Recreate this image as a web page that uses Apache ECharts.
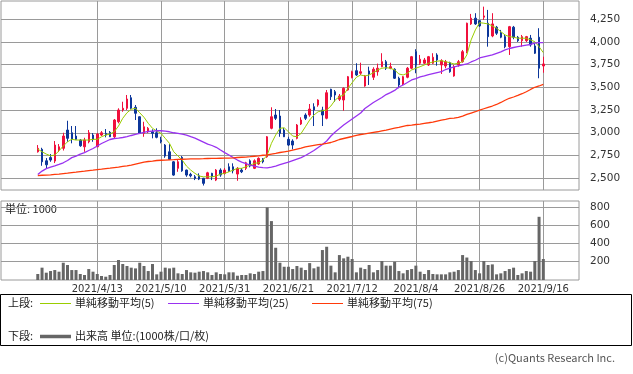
<!DOCTYPE html>
<html><head><meta charset="utf-8">
<script src="https://cdn.jsdelivr.net/npm/echarts@6/dist/echarts.min.js"></script>
<style>html,body{margin:0;padding:0;background:#fff}#c{width:633px;height:374px}</style>
</head><body><div id="c"></div>
<script>
const dates = [
'2021/3/24','2021/3/25','2021/3/26','2021/3/29','2021/3/30','2021/3/31',
'2021/4/1','2021/4/2','2021/4/5','2021/4/6','2021/4/7','2021/4/8','2021/4/9','2021/4/12',
'2021/4/13','2021/4/14','2021/4/15','2021/4/16','2021/4/19','2021/4/20','2021/4/21','2021/4/22','2021/4/23','2021/4/26','2021/4/27','2021/4/28','2021/4/30',
'2021/5/6','2021/5/7','2021/5/10','2021/5/11','2021/5/12','2021/5/13','2021/5/14','2021/5/17','2021/5/18','2021/5/19','2021/5/20','2021/5/21',
'2021/5/24','2021/5/25','2021/5/26','2021/5/27','2021/5/28','2021/5/31',
'2021/6/1','2021/6/2','2021/6/3','2021/6/4','2021/6/7','2021/6/8','2021/6/9','2021/6/10','2021/6/11',
'2021/6/14','2021/6/15','2021/6/16','2021/6/17','2021/6/18','2021/6/21','2021/6/22','2021/6/23','2021/6/24','2021/6/25',
'2021/6/28','2021/6/29','2021/6/30','2021/7/1','2021/7/2','2021/7/5','2021/7/6','2021/7/7','2021/7/8','2021/7/9',
'2021/7/12','2021/7/13','2021/7/14','2021/7/15','2021/7/16','2021/7/19','2021/7/20','2021/7/21',
'2021/7/26','2021/7/27','2021/7/28','2021/7/29','2021/7/30','2021/8/2','2021/8/3','2021/8/4','2021/8/5','2021/8/6',
'2021/8/10','2021/8/11','2021/8/12','2021/8/13','2021/8/16','2021/8/17','2021/8/18','2021/8/19','2021/8/20',
'2021/8/23','2021/8/24','2021/8/25','2021/8/26','2021/8/27','2021/8/30','2021/8/31',
'2021/9/1','2021/9/2','2021/9/3','2021/9/6','2021/9/7','2021/9/8','2021/9/9','2021/9/10',
'2021/9/13','2021/9/14','2021/9/15','2021/9/16'];

const opens = [2791,2818,2692,2727,2689,2810,2829,3030,3000,2964,2920,2846,2901,2975,2846,2975,2993,3005,2956,3121,
3250,3269,3385,3280,3176,2994,3011,3011,3000,2920,2865,2791,2681,2609,2730,2590,2543,2516,2527,2499,
2499,2554,2480,2590,2553,2626,2626,2546,2590,2609,2692,2609,2656,2714,2736,3049,3195,3184,3030,2928,
2909,2939,3096,3195,3195,3286,3305,3250,3159,3478,3451,3368,3360,3470,3605,3682,3654,3514,3679,3610,
3671,3726,3781,3709,3698,3599,3536,3610,3709,3891,3764,3764,3745,3764,3855,3745,3734,3770,3624,3745,
3781,3891,4196,4259,4232,4270,4204,4064,4160,4100,4056,3946,4160,4050,4012,4012,4039,3954,4050,3734];
const closes = [2829,2681,2648,2700,2865,2846,2964,2939,2928,2928,2857,2920,3000,2928,2986,3000,2975,2956,3140,3250,
3269,3371,3269,3214,2994,3066,3049,2994,2950,2901,2744,2708,2535,2681,2582,2535,2527,2499,2491,2444,
2560,2516,2590,2535,2590,2582,2582,2609,2571,2670,2634,2692,2719,2681,2956,3176,3159,2994,2956,2865,
2865,3085,3140,3159,3261,3250,3360,3195,3440,3396,3415,3404,3489,3616,3671,3635,3671,3624,3646,3698,
3709,3781,3709,3726,3599,3525,3616,3709,3836,3745,3808,3800,3836,3830,3800,3792,3781,3671,3726,3781,
3891,4204,4259,4196,4174,4284,4056,4196,4094,4050,3946,4166,4050,4012,4056,4056,3965,3874,3709,3756];
const lows = [2782,2637,2612,2681,2667,2788,2805,2901,2884,2920,2846,2791,2884,2901,2843,2964,2950,2953,2939,3104,
3231,3250,3258,3140,2986,2956,2997,2939,2939,2884,2725,2700,2527,2571,2571,2516,2510,2480,2480,2420,
2491,2480,2469,2516,2540,2571,2554,2472,2557,2590,2620,2601,2645,2664,2725,3038,3140,2956,2953,2854,
2818,2928,3085,3140,3176,3074,3286,3074,3148,3360,3341,3349,3242,3462,3599,3624,3635,3506,3525,3580,
3627,3720,3690,3698,3591,3489,3525,3599,3698,3654,3745,3756,3734,3756,3737,3646,3709,3660,3616,3726,
3770,3874,4185,4185,4163,4240,3946,4050,4075,4039,3929,3855,4028,3998,3946,3998,3946,3866,3599,3660];
const highs = [2865,2835,2722,2766,2909,2876,3000,3132,3074,3074,2930,2945,3030,2997,2997,3019,3041,3019,3151,3269,
3341,3415,3415,3305,3180,3121,3063,3038,3049,2956,2876,2876,2689,2700,2744,2595,2560,2535,2554,2505,
2571,2560,2601,2609,2612,2664,2664,2623,2612,2681,2708,2708,2730,2722,2964,3280,3261,3250,3052,2956,
2928,3096,3170,3214,3316,3324,3368,3286,3470,3484,3470,3426,3500,3624,3682,3764,3770,3635,3726,3720,
3760,3874,3800,3770,3709,3616,3624,3723,3844,3918,3855,3822,3844,3874,3874,3808,3800,3781,3745,3800,
3910,4210,4306,4314,4240,4386,4350,4314,4174,4130,4075,4174,4174,4064,4075,4064,4075,3984,4149,3836];

const ma5 = [2821,2791,2766,2747,2755,2802,2854,2901,2928,2920,2920,2920,2920,2928,2928,2956,2975,2986,3011,3074,
3159,3220,3258,3269,3220,3170,3104,3049,3019,2994,2939,2884,2791,2744,2700,2634,2590,2554,2524,2516,
2516,2516,2524,2546,2554,2571,2590,2609,2609,2626,2645,2664,2670,2700,2755,2884,2975,3049,3055,3011,
2964,2956,2994,3066,3140,3195,3231,3242,3250,3294,3360,3396,3415,3489,3550,3610,3635,3624,3635,3660,
3690,3709,3715,3709,3690,3646,3635,3654,3690,3709,3726,3745,3764,3778,3786,3792,3781,3770,3756,3764,
3781,3855,4020,4130,4210,4204,4196,4174,4149,4111,4075,4056,4050,4039,4039,4039,4020,4001,3946,3880];
const ma25 = [2540,2579,2606,2623,2636,2652,2670,2695,2727,2744,2766,2782,2805,2827,2854,2882,2904,2926,2937,2942,
2948,2958,2970,2981,2992,3003,3014,3019,3022,3022,3019,3011,3000,2994,2986,2975,2958,2942,2920,2898,
2876,2860,2840,2810,2782,2755,2727,2700,2678,2662,2645,2634,2623,2617,2615,2623,2634,2650,2664,2678,
2695,2711,2727,2750,2777,2805,2838,2871,2909,2964,3008,3046,3085,3118,3151,3184,3217,3266,3300,3332,
3360,3388,3420,3442,3465,3503,3525,3552,3580,3596,3613,3624,3640,3651,3662,3671,3695,3709,3723,3734,
3745,3756,3778,3797,3822,3833,3844,3855,3872,3888,3910,3926,3937,3946,3954,3962,3970,3984,3990,3990];
const ma75 = [2530,2533,2535,2538,2543,2546,2552,2557,2563,2568,2574,2579,2585,2590,2596,2601,2607,2612,2618,2623,
2631,2637,2645,2656,2667,2678,2684,2689,2695,2698,2700,2702,2704,2707,2709,2711,2712,2713,2714,2715,
2717,2718,2719,2720,2721,2722,2724,2728,2731,2733,2737,2742,2747,2753,2758,2766,2774,2783,2791,2799,
2810,2821,2832,2846,2854,2862,2869,2876,2884,2893,2909,2926,2937,2948,2959,2972,2981,2988,2997,3005,
3011,3021,3030,3041,3052,3060,3071,3080,3085,3091,3096,3104,3110,3118,3129,3140,3148,3157,3162,3170,
3184,3201,3217,3231,3248,3264,3280,3294,3311,3333,3357,3379,3393,3410,3429,3451,3476,3500,3514,3531];

const volumes = [66,135,80,98,109,91,189,164,109,109,66,55,120,91,66,44,36,55,164,219,
175,153,135,127,189,153,98,175,62,91,135,127,135,73,66,109,84,80,91,98,
84,55,84,66,62,84,84,47,55,55,73,66,91,98,795,645,353,189,145,145,
120,153,135,109,185,128,146,328,364,157,84,273,237,255,230,84,135,120,164,84,
109,208,157,157,200,98,73,109,120,157,91,66,109,66,62,62,62,84,91,109,
273,246,208,109,73,208,164,171,62,73,98,120,135,55,73,98,91,208,692,230];

const dateLabels = ['2021/4/13','2021/5/10','2021/5/31','2021/6/21','2021/7/12','2021/8/4','2021/8/26','2021/9/16'];
const priceTicks = [2500,2750,3000,3250,3500,3750,4000,4250];
const volumeTicks = [200,400,600,800];

const RED = '#f0103c', BLUE = '#0c369a', GRID = '#9a9a9a';
const dateIdx = dateLabels.map(d => dates.indexOf(d));
const FONT = 'DejaVu Sans';
const CJK = '"Noto Sans CJK JP", sans-serif';

const chart = echarts.init(document.getElementById('c'), null, {renderer: 'canvas'});
const xBase = (gi, showLabel) => ({
  type: 'value', gridIndex: gi, min: -8.66, max: 127.4,
  axisLine: {show: false},
  axisTick: {show: false, customValues: dateIdx},
  splitLine: {show: true, lineStyle: {color: GRID, width: 1}},
  axisLabel: {show: showLabel, customValues: dateIdx, formatter: v => dates[Math.round(v)] || '',
    fontFamily: FONT, fontSize: 10, color: '#333', margin: 4}
});
const option = {
  animation: false,
  grid: [
    {left: 1, top: 1, width: 578, height: 189, show: true, borderColor: GRID, borderWidth: 1},
    {left: 1, top: 201, width: 578, height: 79, show: true, borderColor: GRID, borderWidth: 1}
  ],
  xAxis: [xBase(0, false), xBase(1, true)],
  yAxis: [
    {type: 'value', gridIndex: 0, position: 'right', min: 2371, max: 4448, scale: true,
     axisLine: {show: false},
     axisTick: {show: true, length: 6, customValues: priceTicks, lineStyle: {color: GRID}},
     splitLine: {show: true, lineStyle: {color: GRID}},
     axisLabel: {customValues: priceTicks, formatter: v => v.toLocaleString('en-US'), fontFamily: FONT, fontSize: 10.5, color: '#333', margin: 11}},
    {type: 'value', gridIndex: 1, position: 'right', min: 0, max: 865,
     axisLine: {show: false},
     axisTick: {show: true, length: 6, customValues: volumeTicks, lineStyle: {color: GRID}},
     splitLine: {show: true, lineStyle: {color: GRID}},
     axisLabel: {customValues: volumeTicks, fontFamily: FONT, fontSize: 10.5, color: '#333', margin: 11}}
  ],
  series: [
    {type: 'candlestick', name: 'price', xAxisIndex: 0, yAxisIndex: 0, barWidth: 2,
     encode: {x: 0, y: [1, 2, 3, 4]},
     data: dates.map((d, i) => [i, opens[i], closes[i], lows[i], highs[i]]),
     itemStyle: {color: RED, color0: BLUE, borderColor: RED, borderColor0: BLUE, borderColorDoji: RED, borderWidth: 1}, z: 2},
    {type: 'line', name: '単純移動平均(5)', xAxisIndex: 0, yAxisIndex: 0, showSymbol: false, symbol: 'none',
     data: ma5.map((v, i) => [i, v]), lineStyle: {color: '#9acd00', width: 1}, z: 3},
    {type: 'line', name: '単純移動平均(25)', xAxisIndex: 0, yAxisIndex: 0, showSymbol: false, symbol: 'none',
     data: ma25.map((v, i) => [i, v]), lineStyle: {color: '#9932f0', width: 1.3}, z: 3},
    {type: 'line', name: '単純移動平均(75)', xAxisIndex: 0, yAxisIndex: 0, showSymbol: false, symbol: 'none',
     data: ma75.map((v, i) => [i, v]), lineStyle: {color: '#ff3a0a', width: 1.3}, z: 3},
    {type: 'bar', name: '出来高', xAxisIndex: 1, yAxisIndex: 1, barWidth: 3,
     data: volumes.map((v, i) => [i, v]), itemStyle: {color: '#666666'}}
  ],
  graphic: [
    {type: 'text', left: 5, top: 203, style: {text: '単位: 1000', font: '11px ' + CJK, fill: '#222'}},
    {type: 'rect', shape: {x: 0.5, y: 294.5, width: 631, height: 51}, style: {fill: 'none', stroke: '#000', lineWidth: 1}},
    {type: 'text', x: 8, y: 303, style: {text: '上段:', font: '11px ' + CJK, fill: '#222', verticalAlign: 'middle'}},
    {type: 'line', shape: {x1: 40, y1: 303.5, x2: 71, y2: 303.5}, style: {stroke: '#9acd00', lineWidth: 1}},
    {type: 'text', x: 75, y: 303, style: {text: '単純移動平均(5)', font: '11px ' + CJK, fill: '#222', verticalAlign: 'middle'}},
    {type: 'line', shape: {x1: 168, y1: 303.5, x2: 199, y2: 303.5}, style: {stroke: '#9932f0', lineWidth: 1}},
    {type: 'text', x: 203, y: 303, style: {text: '単純移動平均(25)', font: '11px ' + CJK, fill: '#222', verticalAlign: 'middle'}},
    {type: 'line', shape: {x1: 312, y1: 303.5, x2: 343, y2: 303.5}, style: {stroke: '#ff3a0a', lineWidth: 1}},
    {type: 'text', x: 347, y: 303, style: {text: '単純移動平均(75)', font: '11px ' + CJK, fill: '#222', verticalAlign: 'middle'}},
    {type: 'text', x: 8, y: 336, style: {text: '下段:', font: '11px ' + CJK, fill: '#222', verticalAlign: 'middle'}},
    {type: 'line', shape: {x1: 40, y1: 336.5, x2: 71, y2: 336.5}, style: {stroke: '#666666', lineWidth: 3.5}},
    {type: 'text', x: 75, y: 336, style: {text: '出来高 単位:(1000株/口/枚)', font: '11px ' + CJK, fill: '#222', verticalAlign: 'middle'}},
    {type: 'text', right: 18, top: 352, style: {text: '(c)Quants Research Inc.', font: '11px ' + CJK, fill: '#555'}}
  ]
};
chart.setOption(option);
</script>
</body></html>
